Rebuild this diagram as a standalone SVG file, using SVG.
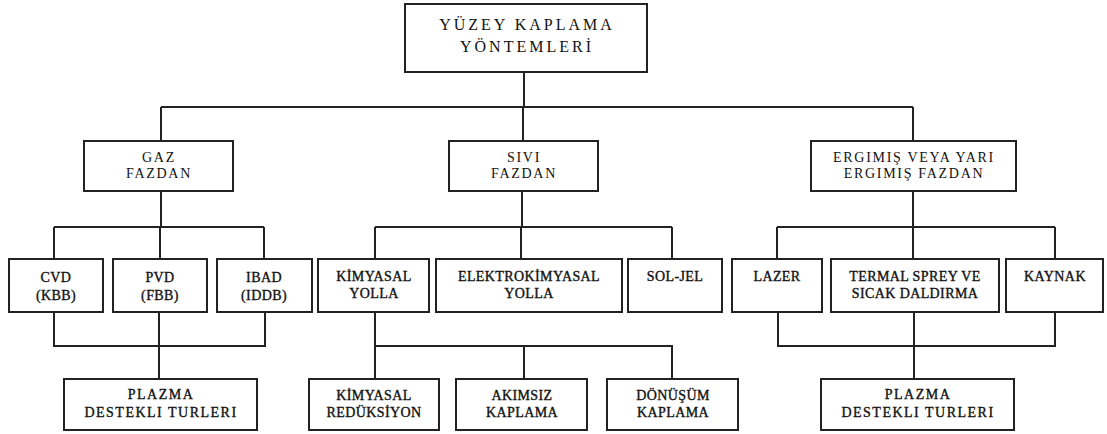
<svg xmlns="http://www.w3.org/2000/svg" width="1107" height="434" viewBox="0 0 1107 434">
<style>
rect.b{fill:#fff;stroke:#222;stroke-width:2}
.c path{fill:none;stroke:#222;stroke-width:2}
text{font-family:"Liberation Serif","DejaVu Serif",serif;fill:#111;text-anchor:middle}
.t0{font-size:16px;letter-spacing:3px}
.t1{font-size:14px;letter-spacing:1.7px}
.t2{font-size:14px;letter-spacing:0.4px;stroke:#111;stroke-width:0.35}
.t3{font-size:14px;letter-spacing:1.5px;stroke:#111;stroke-width:0.35}
</style>
<rect width="1107" height="434" fill="#fff"/>
<g class="c" id="connectors">
<path d="M524 72V107M161 107H913M161 107V141M523 107V141M913 107V141"/>
<path d="M161 191V227M54 227H264M54 227V259M160 227V259M264 227V259"/>
<path d="M522 191V227M375 227H672M375 227V259M521 227V259M672 227V259"/>
<path d="M913 191V227M777 227H1055M777 227V259M913 227V259M1055 227V259"/>
<path d="M54 312V346H265V312M159 312V379"/>
<path d="M375 312V379M375 346H672V379M524 346V379"/>
<path d="M778 312V346H1055V312M914 312V379"/>
</g>
<g id="n-root"><rect class="b" x="405" y="4" width="242" height="68"/><text class="t0" x="527" y="30">YÜZEY KAPLAMA</text><text class="t0" x="527" y="52">YÖNTEMLERİ</text></g>
<g id="n-gaz"><rect class="b" x="84" y="141" width="149" height="50"/><text class="t1" x="159" y="162">GAZ</text><text class="t1" x="159" y="178">FAZDAN</text></g>
<g id="n-sivi"><rect class="b" x="449" y="141" width="149" height="50"/><text class="t1" x="524" y="162">SIVI</text><text class="t1" x="524" y="178">FAZDAN</text></g>
<g id="n-ergimis"><rect class="b" x="811" y="141" width="205" height="50"/><text class="t1" x="914" y="162">ERGIMIŞ VEYA YARI</text><text class="t1" x="914" y="178">ERGIMIŞ FAZDAN</text></g>
<g id="n-cvd"><rect class="b" x="9" y="259" width="94" height="53"/><text class="t2" x="56" y="282">CVD</text><text class="t2" x="56" y="300">(KBB)</text></g>
<g id="n-pvd"><rect class="b" x="113" y="259" width="94" height="53"/><text class="t2" x="160" y="282">PVD</text><text class="t2" x="160" y="300">(FBB)</text></g>
<g id="n-ibad"><rect class="b" x="217" y="259" width="95" height="53"/><text class="t2" x="264" y="282">IBAD</text><text class="t2" x="264" y="300">(IDDB)</text></g>
<g id="n-kimyasal"><rect class="b" x="318" y="259" width="111" height="53"/><text class="t2" x="374" y="281">KİMYASAL</text><text class="t2" x="374" y="298">YOLLA</text></g>
<g id="n-elektro"><rect class="b" x="436" y="259" width="186" height="53"/><text class="t2" x="529" y="281">ELEKTROKİMYASAL</text><text class="t2" x="529" y="298">YOLLA</text></g>
<g id="n-soljel"><rect class="b" x="628" y="259" width="94" height="53"/><text class="t2" x="675" y="281">SOL-JEL</text></g>
<g id="n-lazer"><rect class="b" x="732" y="259" width="90" height="53"/><text class="t2" x="777" y="281">LAZER</text></g>
<g id="n-termal"><rect class="b" x="831" y="259" width="168" height="53"/><text class="t2" x="915" y="281">TERMAL SPREY VE</text><text class="t2" x="915" y="298">SICAK DALDIRMA</text></g>
<g id="n-kaynak"><rect class="b" x="1006" y="259" width="97" height="53"/><text class="t2" x="1055" y="281">KAYNAK</text></g>
<g id="n-plazma1"><rect class="b" x="64" y="379" width="193" height="51"/><text class="t3" x="161" y="399">PLAZMA</text><text class="t3" x="161" y="417">DESTEKLI TURLERI</text></g>
<g id="n-reduksiyon"><rect class="b" x="309" y="379" width="130" height="51"/><text class="t2" x="374" y="400">KİMYASAL</text><text class="t2" x="374" y="417">REDÜKSİYON</text></g>
<g id="n-akimsiz"><rect class="b" x="456" y="379" width="131" height="51"/><text class="t2" x="522" y="400">AKIMSIZ</text><text class="t2" x="522" y="417">KAPLAMA</text></g>
<g id="n-donusum"><rect class="b" x="607" y="379" width="131" height="51"/><text class="t2" x="673" y="400">DÖNÜŞÜM</text><text class="t2" x="673" y="417">KAPLAMA</text></g>
<g id="n-plazma2"><rect class="b" x="821" y="379" width="193" height="51"/><text class="t3" x="918" y="399">PLAZMA</text><text class="t3" x="918" y="417">DESTEKLI TURLERI</text></g>
</svg>
